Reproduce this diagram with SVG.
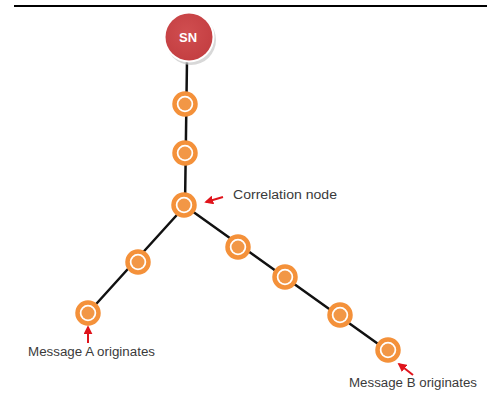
<svg xmlns="http://www.w3.org/2000/svg" width="487" height="402" viewBox="0 0 487 402">
<style>
.edge{stroke:#111;stroke-width:2.5;fill:none;stroke-linecap:round}
.ring{fill:#fff;stroke:#F4913A;stroke-width:4.5}
.core{fill:#F29746}
.lbl{font-family:"Liberation Sans",Arial,sans-serif;font-size:12.5px;fill:#3a3a3a}
.arr{stroke:#E0141B;stroke-width:2;fill:none}
</style>
<defs>
<g id="node">
<circle class="ring" r="10.5"/>
<circle class="core" r="6.5"/>
</g>
<marker id="ah" viewBox="0 0 10 10" refX="8" refY="5" markerWidth="4.5" markerHeight="4.5" orient="auto">
<path d="M0,0 L10,5 L0,10 z" fill="#E0141B"/>
</marker>
<radialGradient id="sng" cx="0.45" cy="0.4" r="0.6">
<stop offset="0" stop-color="#D04E50"/>
<stop offset="1" stop-color="#C43F42"/>
</radialGradient>
</defs>
<rect width="487" height="402" fill="#fff"/>
<line x1="14" y1="6" x2="487" y2="6" stroke="#000" stroke-width="2"/>
<g id="connectors">
<line class="edge" x1="187" y1="60" x2="185" y2="206"/>
<line class="edge" x1="185" y1="206" x2="88" y2="313"/>
<line class="edge" x1="185" y1="206" x2="388" y2="351"/>
</g>
<g id="SN">
<circle cx="191" cy="40" r="25" fill="#c8c8c8" opacity="0.7"/>
<circle cx="189" cy="37" r="25.5" fill="#fff"/>
<circle cx="189" cy="37" r="23.5" fill="url(#sng)"/>
<text x="188" y="41.5" text-anchor="middle" font-family="'Liberation Sans',Arial,sans-serif" font-weight="bold" font-size="13" fill="#fff">SN</text>
</g>
<g id="n1"><use href="#node" x="185" y="104"/></g>
<g id="n2"><use href="#node" x="185" y="153"/></g>
<g id="correlation"><use href="#node" x="184" y="205"/></g>
<g id="a1"><use href="#node" x="138" y="262"/></g>
<g id="a2"><use href="#node" x="88" y="313"/></g>
<g id="b1"><use href="#node" x="238" y="247"/></g>
<g id="b2"><use href="#node" x="285" y="277"/></g>
<g id="b3"><use href="#node" x="340" y="315"/></g>
<g id="b4"><use href="#node" x="388" y="350"/></g>
<g id="labels">
<line class="arr" x1="223" y1="197" x2="206" y2="202" marker-end="url(#ah)"/>
<text class="lbl" x="233" y="199" textLength="104" lengthAdjust="spacingAndGlyphs">Correlation node</text>
<line class="arr" x1="88" y1="343" x2="88" y2="327" marker-end="url(#ah)"/>
<text class="lbl" x="28" y="356" textLength="127" lengthAdjust="spacingAndGlyphs">Message A originates</text>
<line class="arr" x1="413" y1="375" x2="399" y2="364" marker-end="url(#ah)"/>
<text class="lbl" x="349" y="387" textLength="128" lengthAdjust="spacingAndGlyphs">Message B originates</text>
</g>
</svg>
